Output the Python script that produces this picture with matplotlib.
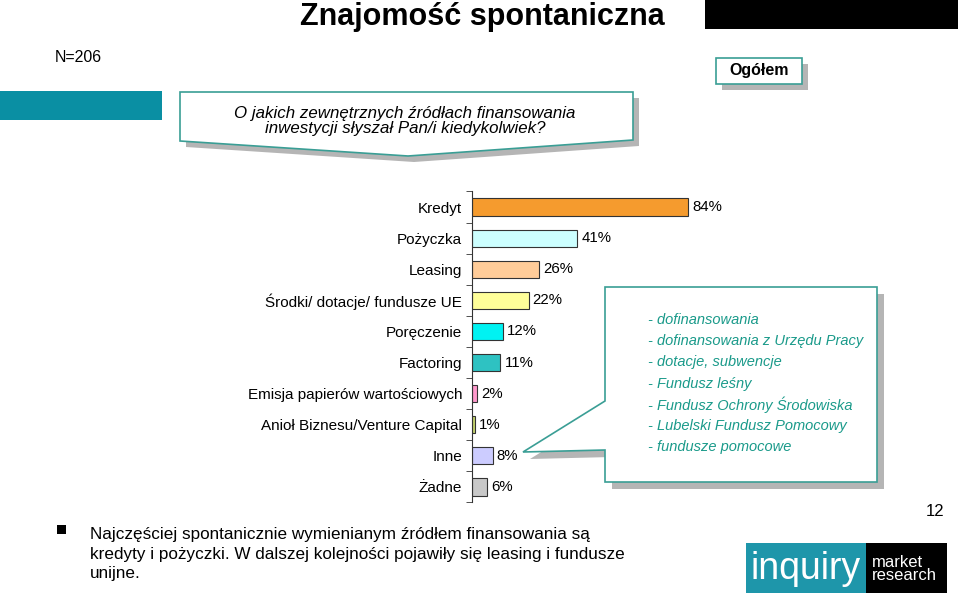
import matplotlib
matplotlib.use('Agg')
from matplotlib import pyplot as plt
from matplotlib.patches import Polygon, Rectangle

plt.rcParams['font.family'] = ['Liberation Sans', 'DejaVu Sans']

# data
categories = ['Kredyt', 'Pożyczka', 'Leasing', 'Środki/ dotacje/ fundusze UE',
              'Poręczenie', 'Factoring', 'Emisja papierów wartościowych',
              'Anioł Biznesu/Venture Capital', 'Inne', 'Żadne']
values = [84, 41, 26, 22, 12, 11, 2, 1, 8, 6]
colors = ['#F59B2E', '#CCFFFF', '#FFCC99', '#FFFF99', '#00F2F2',
          '#2EC2C2', '#FF99CC', '#C4D46E', '#CCCCFF', '#C8C8C8']

other_sources = ['- dofinansowania',
                 '- dofinansowania z Urzędu Pracy',
                 '- dotacje, subwencje',
                 '- Fundusz leśny',
                 '- Fundusz Ochrony Środowiska',
                 '- Lubelski Fundusz Pomocowy',
                 '- fundusze pomocowe']

title = 'Znajomość spontaniczna'
question = 'O jakich zewnętrznych źródłach finansowania\ninwestycji słyszał Pan/i kiedykolwiek?'
summary = ('Najczęściej spontanicznie wymienianym źródłem finansowania są\n'
           'kredyty i pożyczki. W dalszej kolejności pojawiły się leasing i fundusze\n'
           'unijne.')

W, H = 960, 597
teal = '#3A9E95'
fig = plt.figure(figsize=(9.6, 5.97), dpi=100)

# bar chart
ax = fig.add_axes([472 / W, 1 - 502.5 / H, (900 - 472) / W, 311 / H])
ypos = list(range(len(categories)))
ax.barh(ypos, values, height=0.55, color=colors, edgecolor='#333333', linewidth=0.8)
for y, v in zip(ypos, values):
    ax.text(v + 1.6, y, f'{v}%', va='center', ha='left', fontsize=10.8)
ax.set_ylim(9.5, -0.5)
ax.set_xlim(0, (900 - 472) / 2.571)
ax.set_yticks(ypos)
ax.set_yticklabels(categories, fontsize=11)
ax.set_yticks([i - 0.5 for i in range(len(categories) + 1)], minor=True)
ax.tick_params(axis='y', which='major', length=0, pad=7)
ax.tick_params(axis='y', which='minor', length=4, direction='out', color='#333333')
ax.set_xticks([])
for s in ['top', 'right', 'bottom']:
    ax.spines[s].set_visible(False)
ax.spines['left'].set_color('#333333')
ax.patch.set_visible(False)

# overlay in pixel coordinates
ov = fig.add_axes([0, 0, 1, 1], zorder=5)
ov.set_xlim(0, W)
ov.set_ylim(H, 0)
ov.axis('off')
ov.patch.set_visible(False)

def shape(pts, dx=6):
    ov.add_patch(Polygon([(x + dx, y + dx) for x, y in pts], closed=True,
                         facecolor='#B5B5B5', edgecolor='none'))
    ov.add_patch(Polygon(pts, closed=True, facecolor='white', edgecolor=teal, linewidth=1.2))

# header
ov.text(482, 17, title, ha='center', va='center', fontsize=22, fontweight='bold')
ov.add_patch(Rectangle((705, 0), 253, 29, facecolor='black'))
ov.text(55, 57, 'N=206', ha='left', va='center', fontsize=11.5)
shape([(716, 58), (802, 58), (802, 84), (716, 84)])
ov.text(759, 71, 'Ogółem', ha='center', va='center', fontsize=11.5, fontweight='bold')
ov.add_patch(Rectangle((0, 91), 162, 29, facecolor='#0A8FA3'))
shape([(180, 92), (633, 92), (633, 140), (408, 156), (180, 141)])
ov.text(405, 121, question, ha='center', va='center', fontsize=12.2,
        style='italic', linespacing=1.0)

# callout for "Inne"
shape([(605, 287), (877, 287), (877, 482), (605, 482), (605, 450),
       (523, 452), (605, 401)], dx=7)
for i, line in enumerate(other_sources):
    ov.text(648, 320 + i * 21.2, line, ha='left', va='center', fontsize=10.5,
            style='italic', color='#1A9A8A')

# bottom note
ov.add_patch(Rectangle((57, 525), 9, 9, facecolor='black'))
ov.text(90, 554, summary, ha='left', va='center', fontsize=12.3, linespacing=1.4)
ov.text(935, 512, '12', ha='center', va='center', fontsize=12)

# logo
ov.add_patch(Rectangle((746, 543), 120, 50, facecolor='#1E96AA'))
ov.add_patch(Rectangle((866, 543), 81, 50, facecolor='black'))
ov.text(806, 569, 'inquiry', ha='center', va='center', fontsize=27, color='white')
ov.text(872, 569, 'market\nresearch', ha='left', va='center', fontsize=12,
        color='white', linespacing=0.85)

plt.savefig('out.png', dpi=100)
